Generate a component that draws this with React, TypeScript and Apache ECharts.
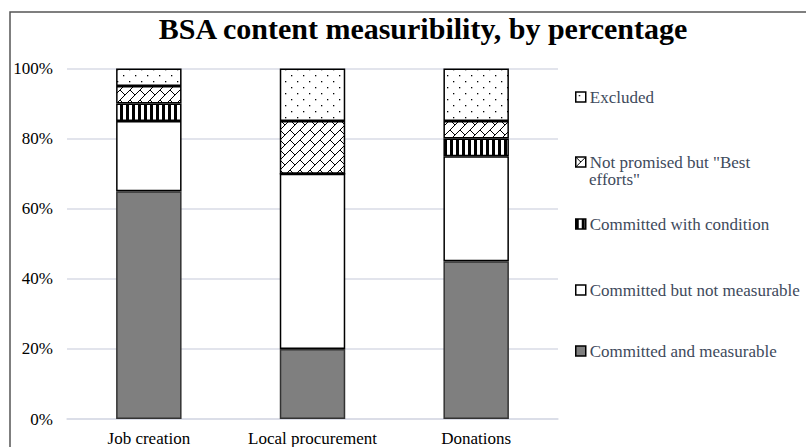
import React, { useEffect, useRef } from "react";
import * as echarts from "echarts";

const categories = ["Job creation", "Local procurement", "Donations"];
const seriesNames = [
  "Committed and measurable",
  "Committed but not measurable",
  "Committed with condition",
  'Not promised but "Best efforts"',
  "Excluded",
];
const measurable = [65, 20, 45];
const notMeasurable = [20, 50, 30];
const withCondition = [5, 0, 5];
const bestEfforts = [5, 15, 5];
const excluded = [5, 15, 15];
const yTicks = [0, 20, 40, 60, 80, 100];

const FONT = "'Liberation Serif', 'Times New Roman', serif";

function makeDots(): HTMLCanvasElement {
  const c = document.createElement("canvas");
  c.width = 12;
  c.height = 12;
  const g = c.getContext("2d")!;
  g.fillStyle = "#fff";
  g.fillRect(0, 0, 12, 12);
  g.fillStyle = "#000";
  g.fillRect(3, 3, 1.3, 1.3);
  g.fillRect(9, 9, 1.3, 1.3);
  return c;
}

function makeStripes(): HTMLCanvasElement {
  const c = document.createElement("canvas");
  c.width = 6;
  c.height = 6;
  const g = c.getContext("2d")!;
  g.fillStyle = "#fff";
  g.fillRect(0, 0, 6, 6);
  g.fillStyle = "#000";
  g.fillRect(0, 0, 3, 6);
  return c;
}

function makeWeave(): HTMLCanvasElement {
  const B = 10;
  const T = 2 * B;
  const c = document.createElement("canvas");
  c.width = T;
  c.height = T;
  const g = c.getContext("2d")!;
  g.fillStyle = "#fff";
  g.fillRect(0, 0, T, T);
  g.strokeStyle = "#000";
  g.lineWidth = 1;
  const seg = (s1: number, d1: number, s2: number, d2: number) => {
    g.beginPath();
    g.moveTo((s1 - d1) / 2, (s1 + d1) / 2);
    g.lineTo((s2 - d2) / 2, (s2 + d2) / 2);
    g.stroke();
  };
  for (let k = -4; k <= 8; k++) {
    seg(B * k, -4 * T, B * k, 4 * T);
  }
  for (let j = -4; j <= 8; j++) {
    for (let m = -4; m <= 4; m++) {
      const d = T * m + (Math.abs(j) % 2 === 1 ? B : 0);
      seg(B * j, d, B * j + B, d);
    }
  }
  return c;
}

export default function App() {
  const ref = useRef<HTMLDivElement>(null);
  useEffect(() => {
    if (!ref.current) return;
    const chart = echarts.init(ref.current, undefined, { renderer: "svg" });
    const dots = { image: makeDots(), repeat: "repeat" } as any;
    const stripes = { image: makeStripes(), repeat: "repeat" } as any;
    const weave = { image: makeWeave(), repeat: "repeat" } as any;
    const fills: any[] = ["#7f7f7f", "#ffffff", stripes, weave, dots];
    const borders = ["#333333", "#000", "#000", "#000", "#000"];
    const values = [measurable, notMeasurable, withCondition, bestEfforts, excluded];
    const legendCenters = [97, 162, 224, 290, 351].reverse();

    const series = seriesNames.map((name, i) => ({
      name,
      type: "bar",
      stack: "total",
      barWidth: "40%",
      data: values[i],
      itemStyle: { color: fills[i], borderColor: borders[i], borderWidth: 1.5 },
      emphasis: { disabled: true },
    }));

    const legends = seriesNames.map((name, i) => ({
      data: [name],
      left: 575,
      top: legendCenters[i] - 8.5,
      orient: "vertical",
      padding: 0,
      icon: "rect",
      itemWidth: 10,
      itemHeight: 10,
      itemGap: 4,
      selectedMode: false,
      itemStyle: { borderColor: "#000", borderWidth: 1.5 },
      formatter: i === 3 ? () => 'Not promised but "Best' : undefined,
      textStyle: {
        fontFamily: FONT,
        fontSize: 17,
        lineHeight: 17,
        color: "#404a5c",
        padding: [0, 0, 0, -1],
      },
    }));

    chart.setOption({
      animation: false,
      backgroundColor: "#ffffff",
      title: {
        text: "BSA content measuribility, by percentage",
        left: 418,
        textAlign: "center",
        top: 8,
        textStyle: {
          fontFamily: FONT,
          fontSize: 30,
          fontWeight: "bold",
          color: "#000",
        },
      },
      legend: legends,
      grid: { left: 67, right: 248, top: 68.5, bottom: 26, containLabel: false },
      xAxis: {
        type: "category",
        data: categories,
        axisLine: { show: true, lineStyle: { color: "#d9dbe6", width: 1.5 } },
        axisTick: { show: false },
        axisLabel: {
          interval: 0,
          fontFamily: FONT,
          fontSize: 17,
          color: "#000",
          margin: 11,
        },
      },
      yAxis: {
        type: "value",
        min: yTicks[0],
        max: yTicks[yTicks.length - 1],
        interval: 20,
        axisLine: { show: false },
        axisTick: { show: false },
        splitLine: { lineStyle: { color: "#d9dbe6", width: 1.5 } },
        axisLabel: {
          fontFamily: FONT,
          fontSize: 17,
          color: "#000",
          margin: 14,
          formatter: (v: number) => v + "%",
        },
      },
      graphic: [
        {
          type: "rect",
          shape: { x: 10, y: 12, width: 900, height: 500 },
          style: { fill: "none", stroke: "#555", lineWidth: 1.5 },
          silent: true,
          z: -1,
        },
        {
          type: "text",
          left: 589,
          top: 171,
          style: {
            text: 'efforts"',
            fontFamily: FONT,
            fontSize: 17,
            fill: "#404a5c",
          },
        },
      ],
      series,
    });
    return () => chart.dispose();
  }, []);
  return (
    <div
      ref={ref}
      style={{ position: "fixed", left: 0, top: 0, width: 806, height: 447 }}
    />
  );
}
